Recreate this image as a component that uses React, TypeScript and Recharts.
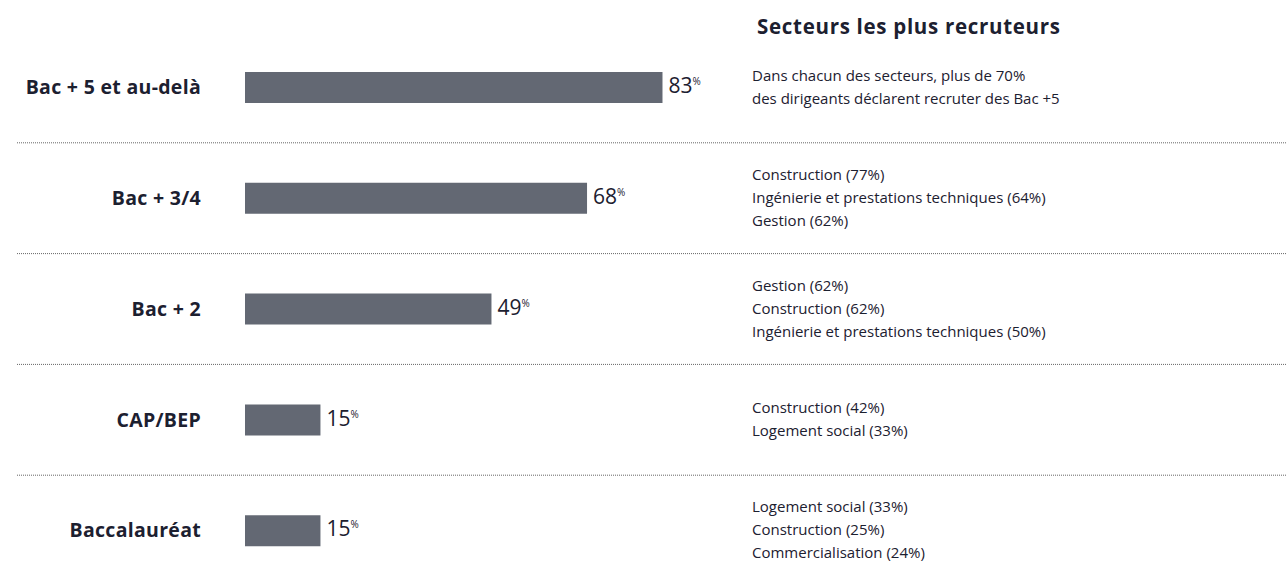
import { BarChart, Bar, XAxis, YAxis, LabelList } from "recharts";

const levels = ["Bac + 5 et au-delà", "Bac + 3/4", "Bac + 2", "CAP/BEP", "Baccalauréat"];
const shares = [83, 68, 49, 15, 15];
const sectors = [
  ["Dans chacun des secteurs, plus de 70%", "des dirigeants déclarent recruter des Bac +5"],
  ["Construction (77%)", "Ingénierie et prestations techniques (64%)", "Gestion (62%)"],
  ["Gestion (62%)", "Construction (62%)", "Ingénierie et prestations techniques (50%)"],
  ["Construction (42%)", "Logement social (33%)"],
  ["Logement social (33%)", "Construction (25%)", "Commercialisation (24%)"],
];
const title = "Secteurs les plus recruteurs";

const data = levels.map((level, i) => ({ level, share: shares[i] }));

const FONT = "'Open Sans', 'DejaVu Sans', sans-serif";
const INK = "#1c2030";
const BAR = "#636873";

function LevelTick(props: any) {
  const { y, payload, index } = props;
  const half = payload?.offset || 55.4;
  return (
    <g>
      <text
        x={201}
        y={y}
        dy="0.35em"
        textAnchor="end"
        fontFamily={FONT}
        fontSize={19.5}
        fontWeight={700}
        letterSpacing={0.3}
        fill={INK}
      >
        {payload.value}
      </text>
      {index < levels.length - 1 && (
        <line
          x1={17}
          x2={1286}
          y1={y + half}
          y2={y + half}
          stroke="#666"
          strokeWidth={1}
          strokeDasharray="1 1"
        />
      )}
    </g>
  );
}

function SectorTick(props: any) {
  const { y, payload } = props;
  const idx = levels.indexOf(payload.value);
  const lines = sectors[idx] || [];
  const lh = 23;
  const top = y - ((lines.length - 1) * lh) / 2;
  return (
    <text fontFamily={FONT} fontSize={15} fill={INK}>
      {lines.map((l, i) => (
        <tspan key={i} x={752} y={top + i * lh} dy="0.32em">
          {l}
        </tspan>
      ))}
    </text>
  );
}

function ShareLabel(props: any) {
  const { x, y, width, height, value } = props;
  return (
    <text
      x={x + width + 6}
      y={y + height / 2}
      dy="0.36em"
      fontFamily={FONT}
      fill={INK}
    >
      <tspan fontSize={21}>{value}</tspan>
      <tspan fontSize={10} dy={-8}>
        %
      </tspan>
    </text>
  );
}

export default function App() {
  return (
    <div
      style={{
        position: "absolute",
        left: 0,
        top: 0,
        width: 1286,
        height: 562,
        overflow: "hidden",
        background: "#fff",
      }}
    >
      <div
        style={{
          position: "absolute",
          left: 757,
          top: 12,
          fontFamily: FONT,
          fontSize: 20.5,
          fontWeight: 700,
          letterSpacing: 0.7,
          color: INK,
          whiteSpace: "nowrap",
        }}
      >
        {title}
      </div>
      <BarChart
        width={1286}
        height={600}
        data={data}
        layout="vertical"
        margin={{ top: 32, right: 0, bottom: 14, left: 0 }}
      >
        <XAxis type="number" domain={[0, 100]} hide />
        <YAxis
          yAxisId="left"
          type="category"
          dataKey="level"
          width={245}
          axisLine={false}
          tickLine={false}
          tick={<LevelTick />}
          interval={0}
        />
        <YAxis
          yAxisId="right"
          orientation="right"
          type="category"
          dataKey="level"
          width={538}
          axisLine={false}
          tickLine={false}
          tick={<SectorTick />}
          interval={0}
        />
        <Bar
          yAxisId="left"
          dataKey="share"
          fill={BAR}
          barSize={31}
          isAnimationActive={false}
        >
          <LabelList dataKey="share" content={<ShareLabel />} />
        </Bar>
      </BarChart>
    </div>
  );
}
